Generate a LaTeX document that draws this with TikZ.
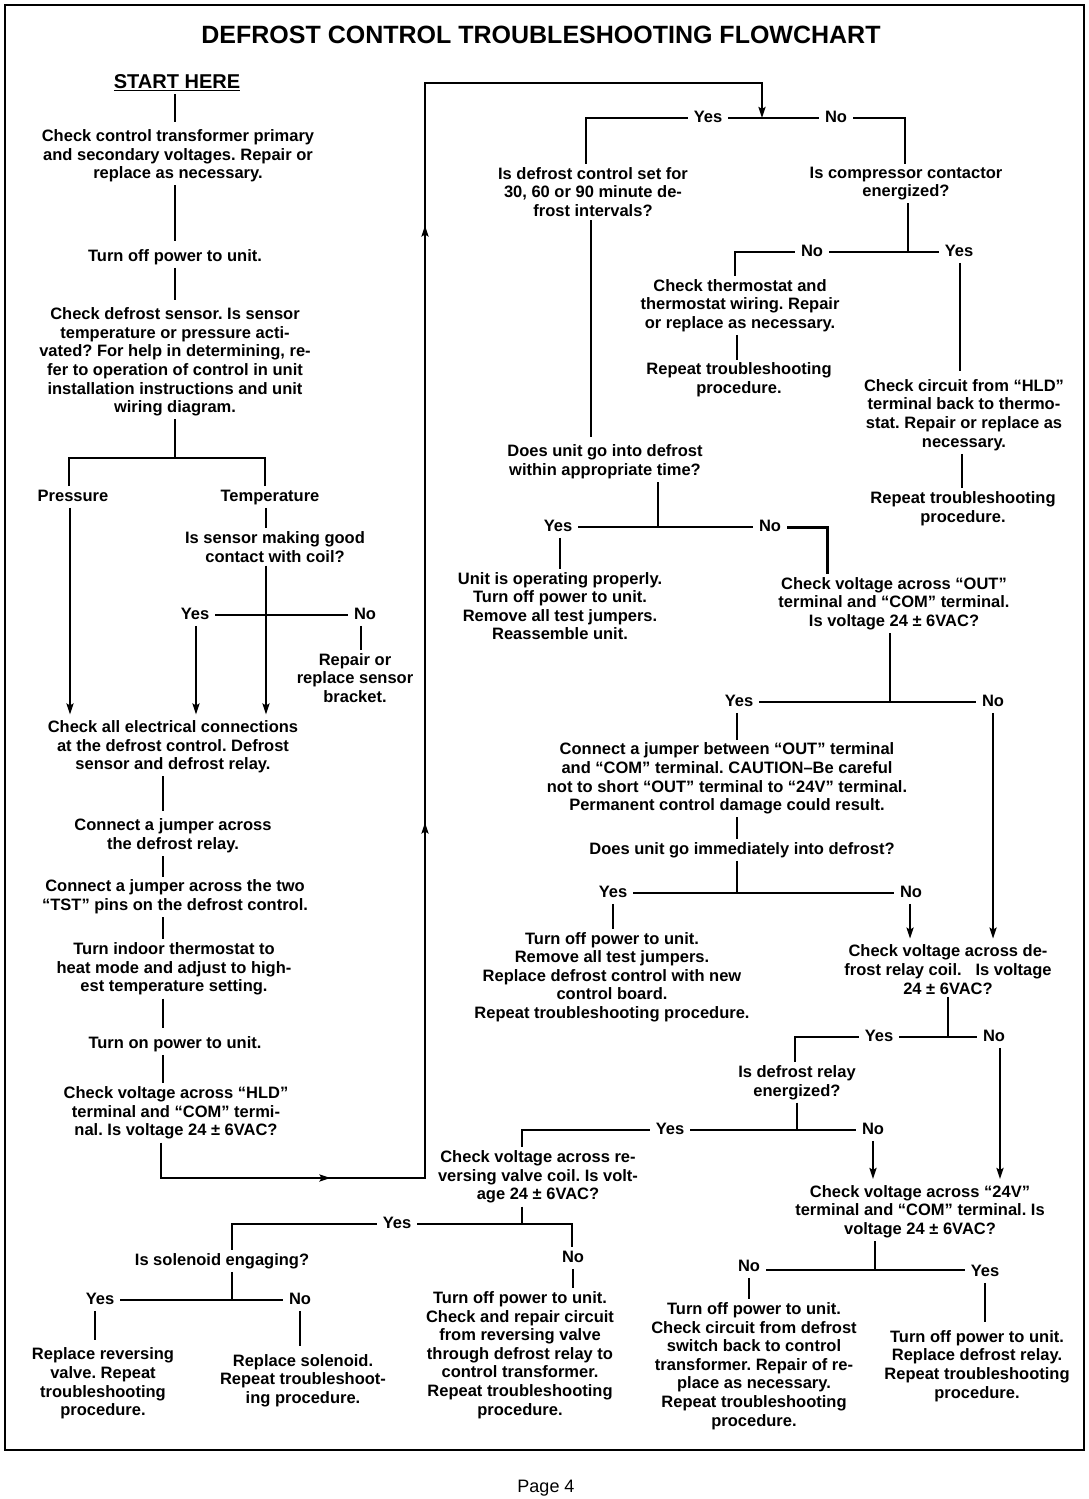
\documentclass[tikz,border=0pt]{standalone}
\usepackage{fontspec}
\setmainfont{Liberation Sans}
\usetikzlibrary{arrows.meta,decorations.markings}
\frenchspacing
\tikzset{
  txt/.style={font=\bfseries\fontsize{16.5}{18.6}\selectfont, align=center, inner sep=3pt},
  lbl/.style={font=\bfseries\fontsize{16.5}{18.6}\selectfont, inner xsep=6pt, inner ysep=3pt, text height=12pt, text depth=3.5pt},
  conn/.style={line width=2.3pt},
  totop/.style={shorten >=5pt},
  tip/.tip={Stealth[length=11pt,width=7pt,inset=2pt]},
  arr/.style={conn, -tip, shorten >=3pt},
}
\begin{document}
\begin{tikzpicture}[x=1pt,y=-1pt]
\useasboundingbox (0,0) rectangle (1089,1499);
\draw[line width=2.5pt] (5,5) rectangle (1084,1450);

% ---------- texts ----------
\node[font=\bfseries\fontsize{25}{30}\selectfont] (title) at (541,35) {DEFROST CONTROL TROUBLESHOOTING FLOWCHART};
\node[txt, font=\bfseries\fontsize{20}{23}\selectfont] (start) at (177,83) {\underline{START HERE}};
\node[txt] (ctrans) at (178,156) {Check control transformer primary\\and secondary voltages. Repair or\\replace as necessary.};
\node[txt] (off1) at (175,257) {Turn off power to unit.};
\node[txt] (sensor) at (175,362) {Check defrost sensor. Is sensor\\temperature or pressure acti-\\vated? For help in determining, re-\\fer to operation of control in unit\\installation instructions and unit\\wiring diagram.};
\node[lbl] (pressure) at (73,497) {Pressure};
\node[lbl] (temp) at (270,497) {Temperature};
\node[txt] (contact) at (275,547) {Is sensor making good\\contact with coil?};
\node[lbl] (yes1) at (195,615) {Yes};
\node[lbl] (no1) at (365,615) {No};
\node[txt] (repair) at (355,678) {Repair or\\replace sensor\\bracket.};
\node[txt] (checkall) at (173,747) {Check all electrical connections\\at the defrost control. Defrost\\sensor and defrost relay.};
\node[txt] (jumper1) at (173,836) {Connect a jumper across\\the defrost relay.};
\node[txt] (tst) at (175,897) {Connect a jumper across the two\\“TST” pins on the defrost control.};
\node[txt] (thermo) at (174,969) {Turn indoor thermostat to\\heat mode and adjust to high-\\est temperature setting.};
\node[txt] (on) at (175,1044) {Turn on power to unit.};
\node[txt] (hld) at (176,1113) {Check voltage across “HLD”\\terminal and “COM” termi-\\nal. Is voltage 24 ± 6VAC?};

\node[lbl] (yes2) at (708,118) {Yes};
\node[lbl] (no2) at (836,118) {No};
\node[txt] (interval) at (593,192) {Is defrost control set for\\30, 60 or 90 minute de-\\frost intervals?};
\node[txt] (compressor) at (906,183.5) {Is compressor contactor\\energized?};
\node[lbl] (no3) at (812,252) {No};
\node[lbl] (yes3) at (959,252) {Yes};
\node[txt] (thermostat) at (740,305.5) {Check thermostat and\\thermostat wiring. Repair\\or replace as necessary.};
\node[txt] (repeat1) at (739,380) {Repeat troubleshooting\\procedure.};
\node[txt] (hldcircuit) at (964,415) {Check circuit from “HLD”\\terminal back to thermo-\\stat. Repair or replace as\\necessary.};
\node[txt] (repeat2) at (963,508.5) {Repeat troubleshooting\\procedure.};
\node[txt] (doesunit) at (605,462) {Does unit go into defrost\\within appropriate time?};
\node[lbl] (yes4) at (558,527) {Yes};
\node[lbl] (no4) at (770,527) {No};
\node[txt] (proper) at (560,606) {Unit is operating properly.\\Turn off power to unit.\\Remove all test jumpers.\\Reassemble unit.};
\node[txt] (outcheck) at (894,603.5) {Check voltage across “OUT”\\terminal and “COM” terminal.\\Is voltage 24 ± 6VAC?};
\node[lbl] (yes5) at (739,702) {Yes};
\node[lbl] (no5) at (993,702) {No};
\node[txt] (jumper2) at (727,778.5) {Connect a jumper between “OUT” terminal\\and “COM” terminal. CAUTION–Be careful\\not to short “OUT” terminal to “24V” terminal.\\Permanent control damage could result.};
\node[txt] (immediately) at (742,850) {Does unit go immediately into defrost?};
\node[lbl] (yes6) at (613,893) {Yes};
\node[lbl] (no6) at (911,893) {No};
\node[txt] (replacectrl) at (612,977) {Turn off power to unit.\\Remove all test jumpers.\\Replace defrost control with new\\control board.\\Repeat troubleshooting procedure.};
\node[txt] (relaycoil) at (948,969.5) {Check voltage across de-\\frost relay coil.~~ Is voltage\\24 ± 6VAC?};
\node[lbl] (yes7) at (879,1037) {Yes};
\node[lbl] (no7) at (994,1037) {No};
\node[txt] (relayenerg) at (797,1082.5) {Is defrost relay\\energized?};
\node[lbl] (yes8) at (670,1130) {Yes};
\node[lbl] (no8) at (873,1130) {No};
\node[txt] (rvcoil) at (538,1177) {Check voltage across re-\\versing valve coil. Is volt-\\age 24 ± 6VAC?};
\node[txt] (v24) at (920,1211.5) {Check voltage across “24V”\\terminal and “COM” terminal. Is\\voltage 24 ± 6VAC?};
\node[lbl] (no9) at (749,1267) {No};
\node[lbl] (yes9) at (985,1272) {Yes};
\node[txt] (circuitdefrost) at (754,1366) {Turn off power to unit.\\Check circuit from defrost\\switch back to control\\transformer. Repair of re-\\place as necessary.\\Repeat troubleshooting\\procedure.};
\node[txt] (replacerelay) at (977,1366) {Turn off power to unit.\\Replace defrost relay.\\Repeat troubleshooting\\procedure.};
\node[lbl] (yes10) at (397,1224) {Yes};
\node[txt] (solenoid) at (222,1261) {Is solenoid engaging?};
\node[lbl] (no10) at (573,1258) {No};
\node[txt] (rvcircuit) at (520,1355) {Turn off power to unit.\\Check and repair circuit\\from reversing valve\\through defrost relay to\\control transformer.\\Repeat troubleshooting\\procedure.};
\node[lbl] (yes11) at (100,1300) {Yes};
\node[lbl] (no11) at (300,1300) {No};
\node[txt] (replacerv) at (103,1383.5) {Replace reversing\\valve. Repeat\\troubleshooting\\procedure.};
\node[txt] (replacesol) at (303,1380.5) {Replace solenoid.\\Repeat troubleshoot-\\ing procedure.};
\node[font=\fontsize{18}{20}\selectfont] (page) at (546,1488) {Page 4};

% ---------- junctions ----------
\coordinate (j1) at (175,458);
\coordinate (jtop) at (762,118);
\coordinate (j3) at (908,252);
\coordinate (j4) at (658,527);
\coordinate (j5) at (890,702);
\coordinate (j6) at (737,893);
\coordinate (j7) at (948,1037);
\coordinate (j8) at (797,1130);
\coordinate (j9) at (875,1270);
\coordinate (j10) at (522,1224);
\coordinate (j11) at (232,1300);

% ---------- left column ----------
\draw[conn,totop] (start.south -| 175,0) -- (ctrans.north -| 175,0);
\draw[conn,totop] (ctrans.south -| 175,0) -- (off1.north -| 175,0);
\draw[conn,totop] (off1.south -| 175,0) -- (sensor.north -| 175,0);
\draw[conn] (sensor.south -| 175,0) -- (j1);
\draw[conn] (pressure.north -| 69,0) |- (j1);
\draw[conn] (temp.north -| 265,0) |- (j1);
\draw[arr] (pressure.south -| 70,0) -- (checkall.north -| 70,0);
\draw[conn] (temp.south -| 266,0) -- (contact.north -| 266,0);
\draw[arr] (contact.south -| 266,0) -- (checkall.north -| 266,0);
\draw[conn] (yes1.east) -- (no1.west);
\draw[arr] (yes1.south -| 196,0) -- (checkall.north -| 196,0);
\draw[conn] (no1.south -| 361,0) -- (repair.north -| 361,0);
\draw[conn,totop] (checkall.south -| 163,0) -- (jumper1.north -| 163,0);
\draw[conn] (jumper1.south -| 163,0) -- (tst.north -| 163,0);
\draw[conn] (tst.south -| 163,0) -- (thermo.north -| 163,0);
\draw[conn,totop] (thermo.south -| 163,0) -- (on.north -| 163,0);
\draw[conn] (on.south -| 163,0) -- (hld.north -| 163,0);
\draw[conn, -tip, postaction={decorate},
  decoration={markings,
    mark=at position 205pt with {\arrow{tip}},
    mark=at position 655pt with {\arrow{tip}},
    mark=at position 1252pt with {\arrow{tip}}}]
  (hld.south -| 161,0) |- (425,1178) |- (762,83) -- (jtop);

% ---------- right part ----------
\draw[conn] (yes2.east) -- (no2.west);
\draw[conn] (yes2.west) -| (interval.north -| 586,0);
\draw[conn] (no2.east) -| (compressor.north -| 905,0);
\draw[conn,totop] (interval.south -| 591,0) -- (doesunit.north -| 591,0);
\draw[conn] (compressor.south -| 908,0) -- (j3);
\draw[conn] (no3.east) -- (yes3.west);
\draw[conn] (no3.west) -| (thermostat.north -| 735,0);
\draw[conn,totop] (yes3.south -| 960,0) -- (hldcircuit.north -| 960,0);
\draw[conn] (thermostat.south -| 737,0) -- (repeat1.north -| 737,0);
\draw[conn] (hldcircuit.south -| 962,0) -- (repeat2.north -| 962,0);
\draw[conn] (doesunit.south -| 658,0) -- (j4);
\draw[conn] (yes4.east) -- (no4.west);
\draw[line width=3pt] (no4.east) -| (outcheck.north -| 827,0);
\draw[conn] (yes4.south -| 560,0) -- (proper.north -| 560,0);
\draw[conn] (outcheck.south -| 890,0) -- (j5);
\draw[conn] (yes5.east) -- (no5.west);
\draw[conn] (yes5.south -| 737,0) -- (jumper2.north -| 737,0);
\draw[arr] (no5.south -| 993,0) -- (relaycoil.north -| 993,0);
\draw[conn] (jumper2.south -| 737,0) -- (immediately.north -| 737,0);
\draw[conn] (immediately.south -| 737,0) -- (j6);
\draw[conn] (yes6.east) -- (no6.west);
\draw[conn] (yes6.south -| 613,0) -- (replacectrl.north -| 613,0);
\draw[arr] (no6.south -| 910,0) -- (relaycoil.north -| 910,0);
\draw[conn] (relaycoil.south -| 948,0) -- (j7);
\draw[conn] (yes7.east) -- (no7.west);
\draw[conn] (yes7.west) -| (relayenerg.north -| 795,0);
\draw[arr] (no7.south -| 1000,0) -- (v24.north -| 1000,0);
\draw[conn] (relayenerg.south -| 797,0) -- (j8);
\draw[conn] (yes8.east) -- (no8.west);
\draw[conn] (yes8.west) -| (rvcoil.north -| 522,0);
\draw[arr] (no8.south -| 873,0) -- (v24.north -| 873,0);
\draw[conn] (v24.south -| 875,0) -- (j9);
\draw[conn] (no9.east |- j9) -- (yes9.west |- j9);
\draw[conn] (no9.south -| 749,0) -- (circuitdefrost.north -| 749,0);
\draw[conn,totop] (yes9.south -| 985,0) -- (replacerelay.north -| 985,0);
\draw[conn] (rvcoil.south -| 522,0) -- (j10);
\draw[conn] (yes10.east) -| (no10.north -| 572,0);
\draw[conn] (yes10.west) -| (solenoid.north -| 232,0);
\draw[conn] (no10.south -| 573,0) -- (rvcircuit.north -| 573,0);
\draw[conn] (solenoid.south -| 232,0) -- (j11);
\draw[conn] (yes11.east) -- (no11.west);
\draw[conn,totop] (yes11.south -| 95,0) -- (replacerv.north -| 95,0);
\draw[conn,totop] (no11.south -| 300,0) -- (replacesol.north -| 300,0);
\end{tikzpicture}
\end{document}
